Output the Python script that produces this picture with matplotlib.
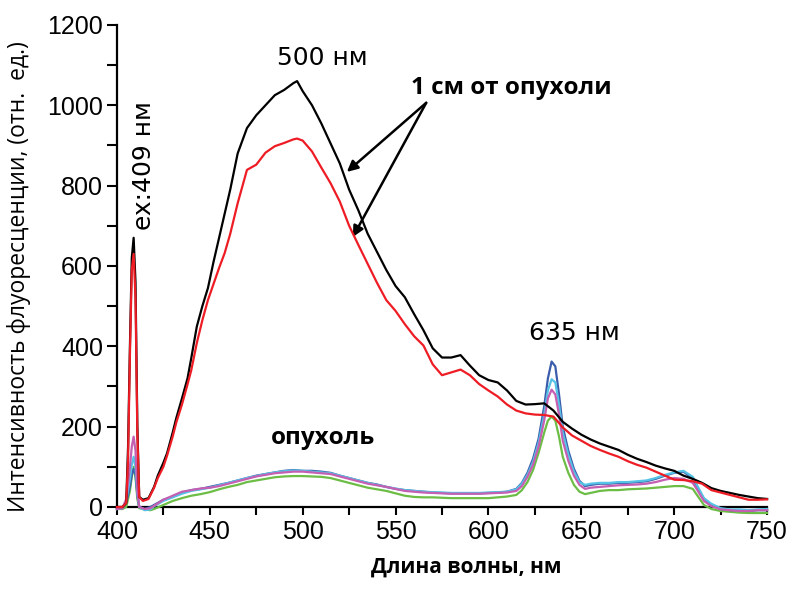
import matplotlib
matplotlib.use("Agg")
import matplotlib.pyplot as plt
from matplotlib.ticker import MultipleLocator
import numpy as np

# ---- data ----
wl_1cm = [400, 403, 405, 406, 407, 408, 409, 410, 411, 412, 414, 417, 420, 422, 425, 427, 430, 432,
          435, 438, 440, 443, 446, 449, 452, 455, 458, 461, 465, 470, 475, 480, 485, 490, 495, 497,
          500, 505, 510, 515, 520, 525, 530, 535, 540, 545, 550, 555, 560, 565, 570, 575, 580, 585,
          590, 595, 600, 605, 610, 615, 620, 625, 630, 635, 640, 645, 650, 655, 660, 665, 670, 675,
          680, 685, 690, 695, 700, 705, 710, 715, 720, 725, 730, 735, 740, 745, 750]
black_1cm = [0, 0, 10, 150, 400, 620, 670, 560, 200, 25, 18, 22, 50, 78, 110, 134, 185, 222,
             270, 320, 370, 449, 500, 545, 610, 670, 730, 790, 880, 943, 975, 1000, 1025, 1038, 1055, 1060,
             1035, 1000, 955, 905, 855, 790, 738, 680, 635, 590, 550, 522, 480, 440, 395, 372, 372, 378,
             352, 328, 316, 310, 290, 264, 255, 256, 258, 240, 212, 195, 180, 168, 158, 150, 142, 130,
             120, 112, 103, 96, 90, 78, 70, 60, 47, 40, 35, 30, 26, 22, 20]
red_1cm = [0, 0, 10, 120, 380, 590, 630, 520, 180, 25, 15, 20, 48, 72, 100, 128, 175, 211,
           255, 305, 340, 408, 465, 515, 555, 595, 632, 680, 756, 839, 852, 882, 898, 906, 915, 917,
           912, 885, 845, 806, 760, 700, 652, 605, 558, 515, 488, 455, 425, 402, 355, 328, 335, 342,
           328, 306, 290, 275, 255, 240, 233, 230, 229, 225, 198, 178, 165, 152, 142, 133, 125, 114,
           105, 98, 88, 78, 68, 67, 64, 58, 42, 36, 30, 24, 18, 18, 19]

wl_tumor = [400, 403, 405, 407, 408, 409, 410, 411, 412, 415, 418, 420, 425, 430, 435, 440, 445, 450,
            455, 460, 465, 470, 475, 480, 485, 490, 495, 500, 505, 510, 515, 520, 525, 530, 535, 540,
            545, 550, 555, 560, 565, 570, 575, 580, 585, 590, 595, 600, 605, 610, 615, 618, 621, 624,
            627, 630, 632, 634, 636, 638, 640, 643, 646, 649, 652, 655, 660, 665, 670, 675, 680, 685,
            690, 695, 700, 705, 710, 713, 716, 720, 725, 730, 735, 740, 745, 750]
blue_t = [-5, -3, 10, 50, 80, 95, 80, 30, 0, -5, 0, 5, 18, 25, 35, 42, 45, 50,
          55, 60, 66, 72, 78, 82, 86, 90, 92, 90, 90, 88, 85, 78, 72, 66, 60, 56,
          50, 45, 42, 40, 38, 36, 35, 34, 34, 34, 34, 35, 36, 38, 45, 60, 85, 120,
          170, 250, 320, 362, 350, 280, 200, 140, 95, 65, 52, 55, 58, 58, 60, 60, 62, 64,
          70, 78, 85, 88, 70, 45, 20, 5, -5, -8, -8, -10, -8, -8]
cyan_t = [-5, -3, 15, 70, 105, 125, 100, 35, 0, -8, -6, 2, 15, 24, 33, 40, 44, 48,
          54, 60, 66, 72, 77, 82, 86, 89, 91, 90, 88, 86, 84, 78, 72, 66, 60, 55,
          50, 46, 42, 40, 38, 37, 36, 35, 35, 35, 35, 36, 37, 38, 44, 58, 80, 112,
          160, 230, 290, 318, 310, 255, 185, 130, 88, 62, 55, 58, 60, 60, 62, 62, 64, 66,
          72, 80, 86, 90, 75, 48, 22, 8, -3, -6, -6, -8, -6, -5]
green_t = [-5, -5, 0, 40, 75, 100, 75, 20, -3, -6, -8, -5, 5, 15, 22, 28, 32, 37,
           44, 50, 55, 62, 66, 70, 74, 76, 77, 77, 76, 75, 72, 66, 60, 54, 48, 44,
           40, 34, 28, 25, 24, 24, 23, 22, 22, 22, 22, 22, 24, 26, 30, 42, 62, 92,
           135, 185, 215, 225, 215, 175, 125, 85, 55, 38, 32, 35, 40, 42, 42, 44, 45, 46,
           48, 50, 52, 52, 45, 25, 5, -5, -10, -12, -14, -15, -15, -15]
magenta_t = [-5, -3, 20, 100, 150, 175, 140, 40, 0, -5, -3, 3, 18, 28, 38, 42, 46, 48,
             52, 58, 64, 70, 76, 80, 84, 86, 88, 88, 86, 84, 82, 76, 70, 64, 58, 54,
             50, 45, 40, 38, 36, 35, 34, 33, 33, 33, 33, 34, 35, 36, 40, 52, 75, 105,
             150, 215, 270, 292, 280, 230, 165, 115, 78, 55, 45, 48, 50, 52, 54, 55, 56, 58,
             62, 68, 72, 70, 60, 38, 15, 2, -6, -8, -10, -10, -8, -8]

x_ticks = [400, 450, 500, 550, 600, 650, 700, 750]
y_ticks = [0, 200, 400, 600, 800, 1000, 1200]

# ---- figure ----
fig = plt.figure(figsize=(7.9, 5.92), dpi=100)
ax = fig.add_axes([0.148, 0.1436, 0.823, 0.8144])

lw = 1.6
ax.plot(wl_tumor, green_t, color='#6cbd45', lw=lw, clip_on=False, zorder=3)
ax.plot(wl_tumor, blue_t, color='#3b5dab', lw=lw, clip_on=False, zorder=4)
ax.plot(wl_tumor, cyan_t, color='#55c3e6', lw=lw, clip_on=False, zorder=5)
ax.plot(wl_tumor, magenta_t, color='#c45fb2', lw=lw, clip_on=False, zorder=6)
ax.plot(wl_1cm, black_1cm, color='black', lw=lw, clip_on=False, zorder=7)
ax.plot(wl_1cm, red_1cm, color='#ee1c24', lw=lw, clip_on=False, zorder=8)

ax.set_xlim(400, 750)
ax.set_ylim(0, 1200)
ax.set_xticks(x_ticks)
ax.set_yticks(y_ticks)
ax.xaxis.set_minor_locator(MultipleLocator(25))
ax.yaxis.set_minor_locator(MultipleLocator(100))
for s in ['top', 'right']:
    ax.spines[s].set_visible(False)
for s in ['left', 'bottom']:
    ax.spines[s].set_linewidth(1.6)
ax.tick_params(axis='y', which='both', direction='out', length=7, width=1.5, labelsize=18, pad=3)
ax.tick_params(axis='x', which='both', direction='out', length=5.5, width=1.5, labelsize=18, pad=4)
tick_font = ['Liberation Sans', 'DejaVu Sans']
for lab in ax.get_xticklabels() + ax.get_yticklabels():
    lab.set_family(tick_font)

# labels
fig.text(0.59, 0.024, 'Длина волны, нм', ha='center', va='bottom', fontsize=15,
         fontweight='bold', family=['Open Sans', 'DejaVu Sans'])
fig.text(0.024, 0.532, 'Интенсивность флуоресценции, (отн.  ед.)', rotation=90,
         ha='center', va='center', fontsize=16.5, family=['Open Sans', 'DejaVu Sans'])

# annotations
ax.text(414.6, 849, 'ex:409 нм', rotation=90, ha='center', va='center', fontsize=18,
        family=['DejaVu Sans'])
ax.text(510.8, 1118, '500 нм', ha='center', va='center', fontsize=18, family=['DejaVu Sans'])
ax.text(646, 433, '635 нм', ha='center', va='center', fontsize=18, family=['DejaVu Sans'])
ax.text(612.4, 1043, '1 см от опухоли', ha='center', va='center', fontsize=17.5,
        fontweight='bold', family=['Open Sans', 'DejaVu Sans'])
ax.text(510.8, 172, 'опухоль', ha='center', va='center', fontsize=17.5,
        fontweight='bold', family=['Open Sans', 'DejaVu Sans'])

arrow_kw = dict(arrowstyle='-|>', color='black', lw=1.8, mutation_scale=16, shrinkA=0, shrinkB=0)
ax.annotate('', xy=(523.8, 834), xytext=(566.5, 1006), arrowprops=arrow_kw)
ax.annotate('', xy=(527.0, 672), xytext=(566.5, 1006), arrowprops=arrow_kw)

fig.savefig('out.png', dpi=100)
